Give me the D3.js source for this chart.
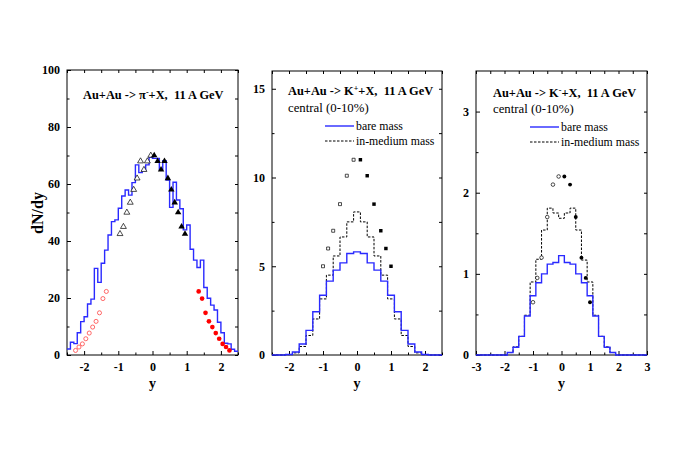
<!DOCTYPE html>
<html>
<head>
<meta charset="utf-8">
<script src="https://cdn.jsdelivr.net/npm/d3@7"></script>
<style>
    body { margin: 0; background: #fff; }
    text { font-family: "Liberation Serif", "Times New Roman", serif; }
</style>
</head>
<body>
<div class="chart"></div>
<script>
var svgWidth = 681;
var svgHeight = 475;

// ---- pi- panel ----
// model histogram, 0.1 wide bins starting at y = -2.5
var pionBinStart = -2.5;
var pionBinWidth = 0.1;
var pionModel = [2.1, 4.5, 4.0, 7.8, 11.7, 13.4, 17.9, 19.6, 30.4, 25.5,
    32.2, 36.8, 42.1, 46.8, 47.4, 51.5, 55.8, 57.9, 56.1, 60.5,
    66.7, 64.0, 64.7, 66.7, 69.4,
    69.0, 69.0, 65.1, 68.2, 61.4, 51.8, 60.6, 54.4, 51.3, 43.9,
    45.6, 37.1, 33.3, 30.7, 33.3, 23.7, 19.9, 17.5, 15.8, 11.5,
    7.8, 4.1, 3.9, 2.0, 1.3];

// measured (filled triangles) and reflected (open triangles)
var pionMeasX = [0.05, 0.15, 0.25, 0.35, 0.45, 0.55, 0.65, 0.75, 0.85, 0.95];
var pionMeasY = [70, 68, 65, 68, 62, 58, 53.5, 50, 45, 42.5];
var pionReflX = [-0.05, -0.15, -0.25, -0.35, -0.45, -0.55, -0.65, -0.75, -0.85, -0.95];
var pionReflY = [70, 68, 65, 68, 62, 58, 53.5, 50, 45, 42.5];

// forward data (red filled) and reflected (red open)
var pionFwdX = [1.35, 1.45, 1.55, 1.65, 1.75, 1.85, 1.95, 2.05, 2.15, 2.25];
var pionFwdY = [22.3, 19.8, 14.8, 11.8, 9.8, 7.7, 5.7, 3.9, 2.8, 1.6];
var pionFwdReflX = [-1.35, -1.45, -1.55, -1.65, -1.75, -1.85, -1.95, -2.05, -2.15, -2.25];
var pionFwdReflY = [22.3, 19.8, 14.8, 11.8, 9.8, 7.7, 5.7, 3.9, 2.8, 1.6];

// ---- K+ panel ----
var kBinWidth = 0.2;
var kPlusCenters = [-2.0, -1.8, -1.6, -1.4, -1.2, -1.0, -0.8, -0.6, -0.4, -0.2, 0,
    0.2, 0.4, 0.6, 0.8, 1.0, 1.2, 1.4, 1.6, 1.8, 2.0];
var kPlusBare = [0.03, 0.17, 0.62, 1.39, 2.44, 3.37, 4.16, 4.78, 5.19, 5.72, 5.81,
    5.72, 5.19, 4.78, 4.16, 3.37, 2.44, 1.39, 0.62, 0.17, 0.03];
var kPlusMedium = [0.02, 0.12, 0.48, 1.1, 2.03, 3.16, 4.5, 5.58, 6.65, 7.5, 8.06,
    7.5, 6.65, 5.58, 4.5, 3.16, 2.03, 1.1, 0.48, 0.12, 0.02];
var kPlusMeasX = [0.1, 0.3, 0.5, 0.7, 0.85, 1.0];
var kPlusMeasY = [11.0, 10.1, 8.5, 7.0, 6.0, 5.0];
var kPlusReflX = [-0.1, -0.3, -0.5, -0.7, -0.85, -1.0];
var kPlusReflY = [11.0, 10.1, 8.5, 7.0, 6.0, 5.0];

// ---- K- panel ----
var kMinusCenters = [-1.8, -1.6, -1.4, -1.2, -1.0, -0.8, -0.6, -0.4, -0.2, 0,
    0.2, 0.4, 0.6, 0.8, 1.0, 1.2, 1.4, 1.6, 1.8];
var kMinusBare = [0.03, 0.095, 0.23, 0.48, 0.73, 0.89, 1.0, 1.12, 1.14, 1.225,
    1.14, 1.12, 1.0, 0.89, 0.73, 0.48, 0.23, 0.095, 0.03];
var kMinusMedium = [0.03, 0.1, 0.23, 0.49, 0.9, 1.18, 1.54, 1.81, 1.75, 1.685,
    1.75, 1.81, 1.54, 1.17, 0.9, 0.49, 0.23, 0.1, 0.03];
var kMinusMeasX = [0.1, 0.3, 0.5, 0.7, 0.85, 1.0];
var kMinusMeasY = [2.2, 2.1, 1.7, 1.2, 0.95, 0.65];
var kMinusReflX = [-0.1, -0.3, -0.5, -0.7, -0.85, -1.0];
var kMinusReflY = [2.2, 2.1, 1.7, 1.2, 0.95, 0.65];

var blue = "#2a2aff";
var serif = "'Liberation Serif', 'Times New Roman', serif";

var svg = d3
    .select(".chart")
    .append("svg")
    .attr("width", svgWidth)
    .attr("height", svgHeight);

// zip two arrays into points
function zip(xs, ys) {
    return xs.map((d, i) => [d, ys[i]]);
}

// builds frame, ticks and labels for one panel, returns the scales
function drawPanel(p) {
    var x = d3.scaleLinear().domain(p.xDomain).range([p.left, p.right]);
    var y = d3.scaleLinear().domain(p.yDomain).range([p.bottom, p.top]);
    var g = svg.append("g");

    function styleAxis(sel) {
        sel.select(".domain").remove();
        sel.attr("font-family", serif)
            .attr("font-size", 12)
            .attr("font-weight", "bold");
        sel.selectAll("line").attr("stroke", "#000");
    }

    var fmt = d => String(d);

    // bottom: labelled majors + minors
    g.append("g")
        .attr("transform", `translate(0, ${p.bottom})`)
        .call(d3.axisBottom(x).tickValues(p.xMajor).tickSize(-4).tickPadding(7).tickFormat(fmt))
        .call(styleAxis);
    g.append("g")
        .attr("transform", `translate(0, ${p.bottom})`)
        .call(d3.axisBottom(x).tickValues(p.xMinor).tickSize(-2.5).tickFormat(""))
        .call(styleAxis);
    // top
    g.append("g")
        .attr("transform", `translate(0, ${p.top})`)
        .call(d3.axisTop(x).tickValues(p.xMajor.concat(p.xMinor)).tickSize(-3).tickFormat(""))
        .call(styleAxis);
    // left
    g.append("g")
        .attr("transform", `translate(${p.left}, 0)`)
        .call(d3.axisLeft(y).tickValues(p.yMajor).tickSize(-4).tickPadding(7).tickFormat(fmt))
        .call(styleAxis);
    g.append("g")
        .attr("transform", `translate(${p.left}, 0)`)
        .call(d3.axisLeft(y).tickValues(p.yMinor).tickSize(-2.5).tickFormat(""))
        .call(styleAxis);
    // right
    g.append("g")
        .attr("transform", `translate(${p.right}, 0)`)
        .call(d3.axisRight(y).tickValues(p.yMajor.concat(p.yMinor)).tickSize(-3).tickFormat(""))
        .call(styleAxis);

    // frame
    g.append("rect")
        .attr("x", p.left)
        .attr("y", p.top)
        .attr("width", p.right - p.left)
        .attr("height", p.bottom - p.top)
        .attr("fill", "none")
        .attr("stroke", "#000")
        .attr("stroke-width", 1);

    // x title
    g.append("text")
        .attr("x", (p.left + p.right) / 2)
        .attr("y", p.bottom + 33)
        .attr("text-anchor", "middle")
        .attr("font-size", 14)
        .attr("font-weight", "bold")
        .text("y");

    return { x: x, y: y, g: g };
}

// step outline for fixed-width bins given by their centres
function kSteps(centers, vals, domain) {
    var pts = [[domain[0], 0]];
    centers.forEach((c, i) => pts.push([c - kBinWidth / 2, vals[i]]));
    pts.push([centers[centers.length - 1] + kBinWidth / 2, 0]);
    pts.push([domain[1], 0]);
    return pts;
}

function drawStep(panel, pts, color, dash, width) {
    var line = d3.line()
        .x(d => panel.x(d[0]))
        .y(d => panel.y(d[1]))
        .curve(d3.curveStepAfter);
    panel.g.append("path")
        .attr("d", line(pts))
        .attr("fill", "none")
        .attr("stroke", color)
        .attr("stroke-width", width)
        .attr("stroke-dasharray", dash);
}

function drawSymbols(panel, pts, type, size, fill, stroke, sw) {
    panel.g.append("g")
        .selectAll("path")
        .data(pts)
        .enter()
        .append("path")
        .attr("transform", d => `translate(${panel.x(d[0])}, ${panel.y(d[1])})`)
        .attr("d", d3.symbol().type(type).size(size))
        .attr("fill", fill)
        .attr("stroke", stroke)
        .attr("stroke-width", sw);
}

function drawTitle(panel, x, y, particle, charge) {
    var t = panel.g.append("text")
        .attr("x", x)
        .attr("y", y)
        .attr("font-size", 12.4)
        .attr("font-weight", "bold")
        .style("white-space", "pre");
    t.append("tspan").text("Au+Au -> " + particle);
    t.append("tspan").attr("dy", -4.5).attr("font-size", 8).text(charge);
    t.append("tspan").attr("dy", 4.5).text("+X,  11 A GeV");
}

function drawLegend(panel, x, y) {
    panel.g.append("text")
        .attr("x", x)
        .attr("y", y)
        .attr("font-size", 12.8)
        .text("central (0-10%)");
    var lx = x + 37;
    panel.g.append("line")
        .attr("x1", lx).attr("x2", lx + 29)
        .attr("y1", y + 14).attr("y2", y + 14)
        .attr("stroke", blue).attr("stroke-width", 1.4);
    panel.g.append("text")
        .attr("x", lx + 31).attr("y", y + 18)
        .attr("font-size", 11.8)
        .text("bare mass");
    panel.g.append("line")
        .attr("x1", lx).attr("x2", lx + 29)
        .attr("y1", y + 29).attr("y2", y + 29)
        .attr("stroke", "#000").attr("stroke-width", 1)
        .attr("stroke-dasharray", "2.5,1.5");
    panel.g.append("text")
        .attr("x", lx + 31).attr("y", y + 33)
        .attr("font-size", 11.8)
        .text("in-medium mass");
}

// ---------- panel 1: pi- ----------
var p1 = drawPanel({
    left: 67, right: 238, top: 70, bottom: 355,
    xDomain: [-2.5, 2.5], yDomain: [0, 100],
    xMajor: [-2, -1, 0, 1, 2], xMinor: [-2.5, -1.5, -0.5, 0.5, 1.5, 2.5],
    yMajor: [0, 20, 40, 60, 80, 100], yMinor: [10, 30, 50, 70, 90]
});

var pionPts = pionModel.map((v, i) => [pionBinStart + i * pionBinWidth, v]);
pionPts.push([pionBinStart + pionModel.length * pionBinWidth, pionModel[pionModel.length - 1]]);
drawStep(p1, pionPts, blue, null, 1.4);

drawSymbols(p1, zip(pionReflX, pionReflY), d3.symbolTriangle, 15, "#fff", "#000", 0.7);
drawSymbols(p1, zip(pionMeasX, pionMeasY), d3.symbolTriangle, 18, "#000", "none", 0);
drawSymbols(p1, zip(pionFwdReflX, pionFwdReflY), d3.symbolCircle, 13, "#fff", "#f44", 0.8);
drawSymbols(p1, zip(pionFwdX, pionFwdY), d3.symbolCircle, 17, "#f00", "none", 0);

drawTitle(p1, 83, 99, "\u03c0", "-");

svg.append("text")
    .attr("transform", "translate(43, 213) rotate(-90)")
    .attr("text-anchor", "middle")
    .attr("font-size", 16)
    .attr("font-weight", "bold")
    .text("dN/dy");

// ---------- panel 2: K+ ----------
var p2 = drawPanel({
    left: 272, right: 442, top: 71, bottom: 355,
    xDomain: [-2.5, 2.5], yDomain: [0, 16],
    xMajor: [-2, -1, 0, 1, 2], xMinor: [-2.5, -1.5, -0.5, 0.5, 1.5, 2.5],
    yMajor: [0, 5, 10, 15], yMinor: [2.5, 7.5, 12.5]
});

drawStep(p2, kSteps(kPlusCenters, kPlusMedium, [-2.5, 2.5]), "#000", "2.5,1.5", 1);
drawStep(p2, kSteps(kPlusCenters, kPlusBare, [-2.5, 2.5]), blue, null, 1.4);
drawSymbols(p2, zip(kPlusReflX, kPlusReflY), d3.symbolSquare, 9, "#fff", "#000", 0.7);
drawSymbols(p2, zip(kPlusMeasX, kPlusMeasY), d3.symbolSquare, 12, "#000", "none", 0);

drawTitle(p2, 288, 95, "K", "+");
drawLegend(p2, 288, 112);

// ---------- panel 3: K- ----------
var p3 = drawPanel({
    left: 476, right: 647, top: 71, bottom: 355,
    xDomain: [-3, 3], yDomain: [0, 3.5],
    xMajor: [-3, -2, -1, 0, 1, 2, 3], xMinor: [-2.5, -1.5, -0.5, 0.5, 1.5, 2.5],
    yMajor: [0, 1, 2, 3], yMinor: [0.5, 1.5, 2.5]
});

drawStep(p3, kSteps(kMinusCenters, kMinusMedium, [-3, 3]), "#000", "2.5,1.5", 1);
drawStep(p3, kSteps(kMinusCenters, kMinusBare, [-3, 3]), blue, null, 1.4);
drawSymbols(p3, zip(kMinusReflX, kMinusReflY), d3.symbolCircle, 10, "#fff", "#000", 0.7);
drawSymbols(p3, zip(kMinusMeasX, kMinusMeasY), d3.symbolCircle, 12, "#000", "none", 0);

drawTitle(p3, 493, 97, "K", "-");
drawLegend(p3, 493, 113);
</script>
</body>
</html>
